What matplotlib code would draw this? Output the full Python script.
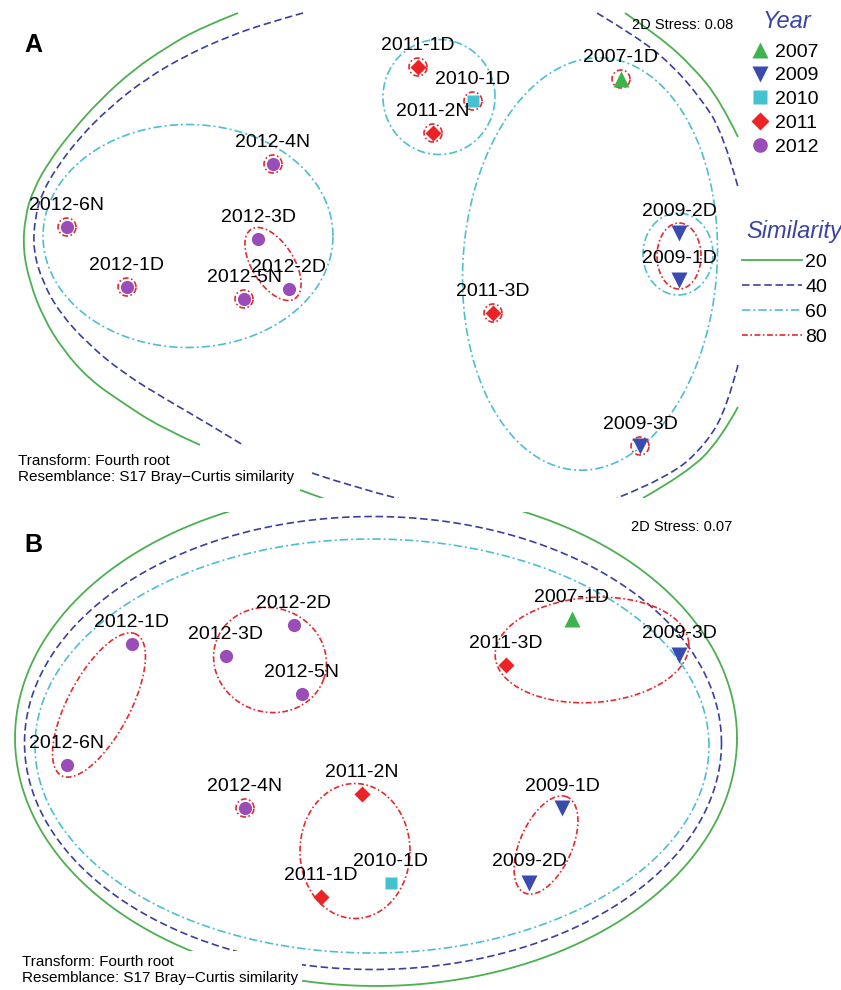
import numpy as np
import matplotlib.pyplot as plt
from matplotlib.lines import Line2D
from matplotlib.path import Path
from matplotlib.patches import PathPatch

plt.rcParams["font.family"] = ["Liberation Sans", "DejaVu Sans"]

# sample names shared by both ordinations
samples = ["2007-1D", "2009-1D", "2009-2D", "2009-3D", "2010-1D", "2011-1D", "2011-2N",
           "2011-3D", "2012-1D", "2012-2D", "2012-3D", "2012-4N", "2012-5N", "2012-6N"]

# nMDS coordinates (screen-like units, y grows downward)
mds1_a = [621, 679, 679, 640, 473, 418, 433, 493, 127, 289, 258, 273, 244, 67]
mds2_a = [79, 280, 233, 446, 101, 67, 133, 313, 287, 289, 239, 164, 299, 227]
mds1_b = [572, 562, 529, 679, 391, 321, 362, 506, 132, 294, 226, 245, 302, 67]
mds2_b = [619, 808, 883, 655, 883, 897, 794, 665, 644, 625, 656, 808, 694, 765]

years = ["2007", "2009", "2010", "2011", "2012"]
sim_levels = ["20", "40", "60", "80"]

# samples that stand alone at 80 % similarity
singles_a = ["2007-1D", "2009-3D", "2010-1D", "2011-1D", "2011-2N", "2011-3D",
             "2012-1D", "2012-4N", "2012-5N", "2012-6N"]
singles_b = ["2012-4N"]

# cluster outlines: (centre x, centre y, width, height, angle)
hull80_a = [(273, 264, 82, 42, -58), (679, 256, 44, 66, 0)]
hull60_a = [(188, 236, 290, 223, 0), (439, 97, 112, 115, 0),
            (590, 264, 254, 413, -4), (678, 254, 70, 82, 0)]
hull80_b = [(99, 705, 160, 62, 62), (270, 660, 114, 104, -20), (355, 851, 110, 135, 0),
            (592, 650, 194, 105, 4), (546, 845, 105, 52, 66)]
hull60_b = [(372, 746, 674, 414, 0)]
hull40_b = [(373, 743, 697, 453, 0)]
hull20_b = [(376, 738, 722, 496, 0)]

# traced pieces of the 20 % and 40 % contours of panel A (they run off the panel)
c20_a_x = [[238, 200, 167, 133, 100, 73, 50, 33, 25, 23, 30, 43, 63, 90, 123, 160, 200],
           [300, 325],
           [625, 660, 693, 720, 738],
           [738, 720, 687, 643]]
c20_a_y = [[13, 28, 47, 70, 100, 130, 160, 190, 217, 250, 283, 317, 350, 380, 403, 427, 445],
           [490, 499],
           [13, 37, 67, 100, 137],
           [407, 440, 473, 498]]
c40_a_x = [[303, 267, 227, 187, 147, 110, 80, 57, 42, 35, 33, 43, 60, 87, 123, 167, 207, 243],
           [312, 353, 400],
           [597, 637, 670, 700, 723, 738],
           [738, 727, 707, 670, 617]]
c40_a_y = [[13, 23, 37, 55, 78, 107, 137, 167, 193, 217, 250, 283, 313, 343, 373, 400, 423, 445],
           [473, 487, 499],
           [13, 37, 63, 97, 133, 187],
           [365, 407, 443, 477, 498]]

year_style = {
    "2007": dict(marker="^", color="#3cb44b", ms=11),
    "2009": dict(marker="v", color="#3a4aae", ms=11),
    "2010": dict(marker="s", color="#45c2d2", ms=9),
    "2011": dict(marker="D", color="#ec2224", ms=8),
    "2012": dict(marker="o", color="#9a4db8", ms=9.5),
}
sim_style = {
    "20": dict(color="#4caf50", ls="-", lw=1.3),
    "40": dict(color="#3b3f9c", ls=(0, (4.5, 2.2)), lw=1.2),
    "60": dict(color="#4dbfcf", ls=(0, (5, 1.8, 1.2, 1.8)), lw=1.2),
    "80": dict(color="#e52a2e", ls=(0, (3.5, 1.5, 1, 1.5)), lw=1.2),
}
NAVY = "#3b45a0"


def ellipse_xy(cx, cy, w, h, ang, n=400):
    t = np.linspace(0, 2 * np.pi, n)
    th = np.radians(ang)
    dx = w / 2 * np.cos(t) * np.cos(th) - h / 2 * np.sin(t) * np.sin(th)
    dy = w / 2 * np.cos(t) * np.sin(th) + h / 2 * np.sin(t) * np.cos(th)
    return cx + dx, cy - dy


def draw_hulls(ax, hulls, level):
    st = sim_style[level]
    for cx, cy, w, h, ang in hulls:
        x, y = ellipse_xy(cx, cy, w, h, ang)
        ax.plot(x, y, color=st["color"], ls=st["ls"], lw=st["lw"], zorder=2)


def draw_traced(ax, xs, ys, level):
    # traced vertices used as quadratic bezier controls -> smooth outline
    st = sim_style[level]
    for x, y in zip(xs, ys):
        pts = np.column_stack([x, y]).astype(float)
        verts, codes = [pts[0]], [Path.MOVETO]
        if len(pts) == 2:
            verts.append(pts[1])
            codes.append(Path.LINETO)
        for i in range(1, len(pts) - 1):
            end = pts[i + 1] if i == len(pts) - 2 else (pts[i] + pts[i + 1]) / 2
            verts += [pts[i], end]
            codes += [Path.CURVE3, Path.CURVE3]
        ax.add_patch(PathPatch(Path(verts, codes), fill=False, edgecolor=st["color"],
                               ls=st["ls"], lw=st["lw"], zorder=2))


def draw_points(ax, xs, ys, singles):
    for name, x, y in zip(samples, xs, ys):
        st = year_style[name[:4]]
        ax.plot(x, y, ls="none", marker=st["marker"], color=st["color"], ms=st["ms"],
                mec="none", zorder=4)
        ax.annotate(name, (x, y), xytext=(0, 15.5), textcoords="offset points",
                    ha="center", va="center", fontsize=14, zorder=5)
        if name in singles:
            draw_hulls(ax, [(x, y, 18, 18, 0)], "80")


def footnote(ax, x, y):
    ax.text(x, y, "Transform: Fourth root\nResemblance: S17 Bray\u2212Curtis similarity",
            fontsize=11, ha="left", va="center", linespacing=1.2, zorder=6,
            bbox=dict(facecolor="white", edgecolor="none", pad=3))


fig = plt.figure(figsize=(8.41, 9.90), dpi=100)

# panel A
ax_a = fig.add_axes([0, 1 - 498 / 990, 740 / 841, 486 / 990])
ax_a.set_xlim(0, 740)
ax_a.set_ylim(498, 12)
ax_a.axis("off")
draw_traced(ax_a, c20_a_x, c20_a_y, "20")
draw_traced(ax_a, c40_a_x, c40_a_y, "40")
draw_hulls(ax_a, hull60_a, "60")
draw_hulls(ax_a, hull80_a, "80")
draw_points(ax_a, mds1_a, mds2_a, singles_a)
ax_a.text(33, 45, "A", fontsize=18, fontweight="bold", ha="center", va="center")
ax_a.text(733, 25, "2D Stress: 0.08", fontsize=10.5, ha="right", va="center")
footnote(ax_a, 18, 469)

# panel B
ax_b = fig.add_axes([0, 0, 1, (990 - 512) / 990])
ax_b.set_xlim(0, 841)
ax_b.set_ylim(990, 512)
ax_b.axis("off")
draw_hulls(ax_b, hull20_b, "20")
draw_hulls(ax_b, hull40_b, "40")
draw_hulls(ax_b, hull60_b, "60")
draw_hulls(ax_b, hull80_b, "80")
draw_points(ax_b, mds1_b, mds2_b, singles_b)
ax_b.text(33, 545, "B", fontsize=18, fontweight="bold", ha="center", va="center")
ax_b.text(732, 527, "2D Stress: 0.07", fontsize=10.5, ha="right", va="center")
footnote(ax_b, 22, 970)

# legends (titles drawn separately to match the spacing)
fig.text(787 / 841, 1 - 22 / 990, "Year", fontsize=17, style="italic", color=NAVY,
         ha="center", va="center")
year_handles = [Line2D([], [], ls="none", marker=year_style[y]["marker"],
                       color=year_style[y]["color"], ms=year_style[y]["ms"] + 1, mec="none")
                for y in years]
fig.legend(year_handles, years, loc="upper left", bbox_to_anchor=(751 / 841, 1 - 43 / 990),
           frameon=False, fontsize=14, handlelength=0.9, handletextpad=0.35,
           labelspacing=0.32, borderpad=0, borderaxespad=0)

fig.text(746 / 841, 1 - 231 / 990, "Similarity", fontsize=17, style="italic", color=NAVY,
         ha="left", va="center")
sim_handles = [Line2D([], [], color=sim_style[s]["color"], ls=sim_style[s]["ls"],
                      lw=sim_style[s]["lw"]) for s in sim_levels]
fig.legend(sim_handles, sim_levels, loc="upper left", bbox_to_anchor=(742 / 841, 1 - 253 / 990),
           frameon=False, fontsize=14, handlelength=3.1, handletextpad=0.15,
           labelspacing=0.38, borderpad=0, borderaxespad=0)

fig.savefig("out.png", dpi=100)
